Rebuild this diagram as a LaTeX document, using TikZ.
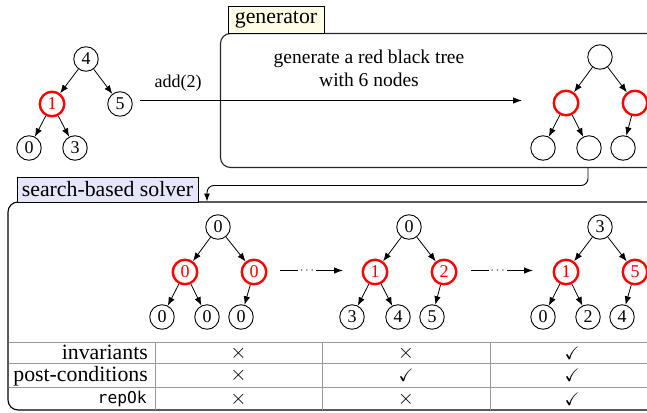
\documentclass[tikz,border=0pt]{standalone}
\usepackage{amssymb}
\usepackage{fontspec}
\setmainfont{Liberation Serif}
\setmonofont{DejaVu Sans Mono}
\usetikzlibrary{arrows.meta}
\definecolor{genfill}{HTML}{FFFDE6}
\definecolor{solfill}{HTML}{E6E6FA}
\definecolor{rbred}{HTML}{FF0000}
\begin{document}
\begin{tikzpicture}[x=1pt,y=-1pt,
  bn/.style={circle, draw=black, line width=0.9pt, minimum size=24.5pt, inner sep=0pt, font=\fontsize{18}{18}\selectfont},
  rn/.style={bn, draw=rbred, text=rbred, line width=2.4pt},
  tr/.style={-{Latex[length=8.5pt,width=6.5pt]}, line width=0.8pt},
  ar/.style={-{Latex[length=9pt,width=6.5pt]}, line width=0.9pt},
  lbl/.style={draw=black, line width=0.8pt, inner sep=0pt, font=\fontsize{21.8}{24}\selectfont},
  rowlbl/.style={anchor=base east, inner sep=0pt, font=\fontsize{21.8}{24}\selectfont},
  cell/.style={inner sep=0pt, font=\fontsize{18}{18}\selectfont},
  xcell/.style={inner sep=0pt, font=\fontsize{21}{21}\selectfont},
  tline/.style={draw=black!40, line width=1pt}
]
\useasboundingbox (0,0) rectangle (647,412);
\clip (0,0) rectangle (647,412);

% ---------- left tree ----------
\node[bn] (l4) at (86,59) {4};
\node[rn] (l1) at (52,104) {1};
\node[bn] (l5) at (120,104) {5};
\node[bn] (l0) at (29,148) {0};
\node[bn] (l3) at (75,148) {3};
\draw[tr] (l4) -- (l1);
\draw[tr] (l4) -- (l5);
\draw[tr] (l1) -- (l0);
\draw[tr] (l1) -- (l3);

% ---------- generator ----------
\draw[draw=black!85, line width=1.1pt, rounded corners=10pt] (220.5,33.5) rectangle (700,167.5);
\node[lbl, fill=genfill, minimum width=96pt, minimum height=27pt] (genlbl) at (276,19.5) {generator};
\node[align=center, inner sep=0pt, font=\fontsize{19.5}{23}\selectfont] (gentxt) at (369,68) {generate a red black tree\\with 6 nodes};

\node[bn] (g0) at (600,57) {};
\node[rn] (g1) at (566,103) {};
\node[rn] (g2) at (635,103) {};
\node[bn] (g3) at (543,148) {};
\node[bn] (g4) at (589,148) {};
\node[bn] (g5) at (623,148) {};
\draw[tr] (g0) -- (g1);
\draw[tr] (g0) -- (g2);
\draw[tr] (g1) -- (g3);
\draw[tr] (g1) -- (g4);
\draw[tr] (g2) -- (g5);

% main arrow
\coordinate (a0) at (140,100.5);
\coordinate (a1) at (522,100.5);
\draw[ar] (a0) -- (a1);
\node[inner sep=0pt, font=\fontsize{18}{18}\selectfont] (addlbl) at (178,83) {add(2)};

% connector generator -> solver
\coordinate (c0) at (588,167.5);
\coordinate (c1) at (207,185.5);
\coordinate (c2) at (207,201.5);
\draw[-{Latex[length=8pt,width=6pt]}, line width=0.9pt, rounded corners=7pt] (c0) |- (c1) -- (c2);

% ---------- solver ----------
\draw[draw=black, line width=1.1pt, rounded corners=10pt] (8,202) rectangle (700,410);
\node[lbl, fill=solfill, minimum width=181pt, minimum height=25pt] (sollbl) at (107.5,189.5) {search-based solver};

% tree 1
\node[bn] (a_r) at (218,227) {0};
\node[rn] (a_1) at (185,272) {0};
\node[rn] (a_2) at (254,272) {0};
\node[bn] (a_3) at (162,317) {0};
\node[bn] (a_4) at (207,317) {0};
\node[bn] (a_5) at (241,317) {0};
\draw[tr] (a_r) -- (a_1);
\draw[tr] (a_r) -- (a_2);
\draw[tr] (a_1) -- (a_3);
\draw[tr] (a_1) -- (a_4);
\draw[tr] (a_2) -- (a_5);

% tree 2
\node[bn] (b_r) at (409,227) {0};
\node[rn] (b_1) at (375,272) {1};
\node[rn] (b_2) at (444,272) {2};
\node[bn] (b_3) at (352,317) {3};
\node[bn] (b_4) at (398,317) {4};
\node[bn] (b_5) at (432,317) {5};
\draw[tr] (b_r) -- (b_1);
\draw[tr] (b_r) -- (b_2);
\draw[tr] (b_1) -- (b_3);
\draw[tr] (b_1) -- (b_4);
\draw[tr] (b_2) -- (b_5);

% tree 3
\node[bn] (c_r) at (600,227) {3};
\node[rn] (c_1) at (566,272) {1};
\node[rn] (c_2) at (635,272) {5};
\node[bn] (c_3) at (543,317) {0};
\node[bn] (c_4) at (588,317) {2};
\node[bn] (c_5) at (622,317) {4};
\draw[tr] (c_r) -- (c_1);
\draw[tr] (c_r) -- (c_2);
\draw[tr] (c_1) -- (c_3);
\draw[tr] (c_1) -- (c_4);
\draw[tr] (c_2) -- (c_5);

% dotted progress arrows
\coordinate (d1s) at (280,270.5);
\coordinate (d1e) at (343,270.5);
\coordinate (d2s) at (471,270.5);
\coordinate (d2e) at (533,270.5);
\draw[ar] (d1s) -- node[pos=0.43, fill=white, inner sep=2pt, font=\fontsize{12}{12}\selectfont] (dots1) {$\cdots$} (d1e);
\draw[ar] (d2s) -- node[pos=0.43, fill=white, inner sep=2pt, font=\fontsize{12}{12}\selectfont] (dots2) {$\cdots$} (d2e);

% ---------- table ----------
\draw[tline] (8.6,342) -- (647,342);
\draw[tline] (8.6,363) -- (647,363);
\draw[tline] (8.6,387) -- (647,387);
\draw[tline] (155,342) -- (155,409.5);
\draw[tline] (322,342) -- (322,409.5);
\draw[tline] (490,342) -- (490,409.5);

\node[rowlbl] (r1) at (148,359) {invariants};
\node[rowlbl] (r2) at (148,381.5) {post-conditions};
\node[rowlbl, font=\fontsize{16.3}{18}\selectfont] (r3) at (147,403) {\ttfamily repOk};

\node[xcell] (x11) at (238.5,353) {$\times$};
\node[xcell] (x12) at (406,353) {$\times$};
\node[cell] (x13) at (572,353) {$\checkmark$};
\node[xcell] (x21) at (238.5,375.5) {$\times$};
\node[cell] (x22) at (406,375.5) {$\checkmark$};
\node[cell] (x23) at (572,375.5) {$\checkmark$};
\node[xcell] (x31) at (238.5,399) {$\times$};
\node[xcell] (x32) at (406,399) {$\times$};
\node[cell] (x33) at (572,399) {$\checkmark$};
\end{tikzpicture}
\end{document}
